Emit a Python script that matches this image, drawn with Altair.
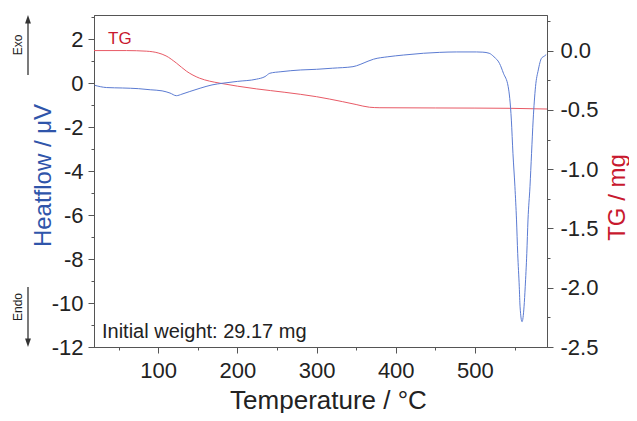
import altair as alt
import pandas as pd

# ---------------- data ----------------
temp_hf = [20, 35, 55, 75, 90, 105, 115, 123, 130, 140,
           153, 168, 182, 200, 224, 235, 241, 255, 280, 300,
           320, 346, 355, 365, 372, 390, 410, 435, 455, 477,
           502, 510, 518, 524, 531, 536, 542, 546, 548, 550.5,
           552.5, 554, 556, 557, 559.5, 562, 563.5, 565.5, 567, 569.5,
           571.5, 573.5, 576.5, 580, 584, 588, 590]
heatflow = [-0.10, -0.20, -0.22, -0.25, -0.30, -0.35, -0.45, -0.57, -0.50, -0.38,
            -0.23, -0.08, 0.00, 0.08, 0.18, 0.30, 0.45, 0.52, 0.60, 0.63,
            0.68, 0.75, 0.85, 1.00, 1.09, 1.20, 1.28, 1.36, 1.40, 1.42,
            1.42, 1.41, 1.36, 1.20, 0.90, 0.45, -0.16, -1.68, -3.19, -4.71,
            -6.22, -7.74, -9.26, -10.17, -10.85, -10.17, -9.26, -7.74, -6.22, -4.71,
            -3.19, -1.68, -0.16, 0.60, 1.13, 1.24, 1.30]

temp_tg = [19, 60, 85, 100, 110, 123, 136, 152, 165, 178,
           200, 224, 260, 300, 333, 350, 367, 380, 450, 500,
           545, 591]
tg = [0.0, 0.0, -0.005, -0.02, -0.045, -0.105, -0.175, -0.232, -0.258, -0.275,
      -0.30, -0.323, -0.352, -0.389, -0.431, -0.455, -0.478, -0.482, -0.484, -0.485,
      -0.487, -0.493]

x_ticks = list(range(50, 591, 50))
hf_ticks = list(range(-12, 4))
tg_ticks = [-2.5 + 0.25 * i for i in range(12)]

x_domain = [19, 591]
hf_domain = [-12, 3.1]
tg_domain = [-2.5, 0.3]

hf_df = pd.DataFrame({"T": temp_hf, "HF": heatflow})
tg_df = pd.DataFrame({"T": temp_tg, "TG": tg})
one = pd.DataFrame({"k": [0]})

# ---------------- styling ----------------
FONT = "Liberation Sans"
AX = "#555555"
TXT = "#222222"
BLUE_LINE = "#5b7bd2"
RED_LINE = "#e85a66"
BLUE_TITLE = "#2f55aa"
RED_TITLE = "#c8192f"
MINUS = "\u2212"


def cond_size(test):
    return {"condition": {"test": test, "value": 6}, "value": 3}


x_axis = alt.Axis(
    values=x_ticks,
    tickSize=cond_size("datum.value % 100 === 0"),
    labelExpr="datum.value % 100 === 0 ? datum.label : ''",
    labelFontSize=22, labelFont=FONT, labelColor=TXT, labelPadding=7,
    labelFlush=False, labelOverlap=False,
    tickColor=AX, domainColor=AX, tickWidth=1, domainWidth=1, grid=False,
    title="Temperature / °C", titleFont=FONT, titleFontSize=26,
    titleFontWeight="normal", titleColor=TXT,
    titleX=234, titleY=61, titleAlign="center", titleBaseline="alphabetic",
)

hf_axis = alt.Axis(
    orient="left",
    values=hf_ticks,
    tickSize=cond_size("datum.value % 2 === 0"),
    labelExpr="datum.value % 2 === 0 ? replace(datum.label, '" + MINUS + "', '-') : ''",
    labelFontSize=22, labelFont=FONT, labelColor=TXT, labelPadding=5,
    labelOverlap=False,
    tickColor=AX, domainColor=AX, tickWidth=1, domainWidth=1, grid=False,
    title="Heatflow / μV", titleFont=FONT, titleFontSize=24,
    titleFontWeight="normal", titleColor=BLUE_TITLE,
    titleAngle=270, titleX=-44, titleY=160, titleAlign="center",
    titleBaseline="alphabetic",
)

tg_axis = alt.Axis(
    orient="right",
    values=tg_ticks,
    format=".1f",
    tickSize=cond_size("datum.value * 2 === round(datum.value * 2)"),
    labelExpr="datum.value * 2 === round(datum.value * 2) ? replace(datum.label, '" + MINUS + "', '-') : ''",
    labelFontSize=22, labelFont=FONT, labelColor=TXT, labelPadding=7,
    labelOverlap=False,
    tickColor=AX, domainColor=AX, tickWidth=1, domainWidth=1, grid=False,
    title="TG / mg", titleFont=FONT, titleFontSize=24,
    titleFontWeight="normal", titleColor=RED_TITLE,
    titleAngle=270, titleX=77, titleY=182, titleAlign="center",
    titleBaseline="alphabetic",
)

x_enc = alt.X("T:Q", scale=alt.Scale(domain=x_domain, nice=False, zero=False), axis=x_axis)

hf_line = alt.Chart(hf_df).mark_line(
    color=BLUE_LINE, strokeWidth=1, interpolate="monotone"
).encode(
    x=x_enc,
    y=alt.Y("HF:Q", scale=alt.Scale(domain=hf_domain, nice=False, zero=False), axis=hf_axis),
)

tg_line = alt.Chart(tg_df).mark_line(
    color=RED_LINE, strokeWidth=1, interpolate="monotone"
).encode(
    x=x_enc,
    y=alt.Y("TG:Q", scale=alt.Scale(domain=tg_domain, nice=False, zero=False), axis=tg_axis),
)

tg_label = alt.Chart(one).mark_text(
    text="TG", font=FONT, fontSize=17, color=RED_TITLE, align="left", baseline="middle"
).encode(x=alt.value(14), y=alt.value(24))

iw_label = alt.Chart(one).mark_text(
    text="Initial weight: 29.17 mg", font=FONT, fontSize=20, color=TXT,
    align="left", baseline="middle"
).encode(x=alt.value(8), y=alt.value(317))

ARROW = "#333333"
exo_line = alt.Chart(one).mark_rule(color=ARROW, strokeWidth=1.3).encode(
    x=alt.value(-66), y=alt.value(6), y2=alt.value(60))
exo_head = alt.Chart(one).mark_point(
    shape="M0,-1L0.7,1L-0.7,1Z", filled=True, size=70, color=ARROW, opacity=1
).encode(x=alt.value(-66), y=alt.value(4.2))
exo_text = alt.Chart(one).mark_text(
    text="Exo", font=FONT, fontSize=12, color=TXT, angle=270,
    align="center", baseline="middle"
).encode(x=alt.value(-76.5), y=alt.value(30))

endo_line = alt.Chart(one).mark_rule(color=ARROW, strokeWidth=1.3).encode(
    x=alt.value(-66), y=alt.value(272), y2=alt.value(326))
endo_head = alt.Chart(one).mark_point(
    shape="M0,1L0.7,-1L-0.7,-1Z", filled=True, size=70, color=ARROW, opacity=1
).encode(x=alt.value(-66), y=alt.value(327.8))
endo_text = alt.Chart(one).mark_text(
    text="Endo", font=FONT, fontSize=12, color=TXT, angle=270,
    align="center", baseline="middle"
).encode(x=alt.value(-76.5), y=alt.value(292))

chart = alt.layer(
    tg_line, hf_line, tg_label, iw_label,
    exo_line, exo_head, exo_text, endo_line, endo_head, endo_text,
).resolve_scale(
    y="independent"
).properties(
    width=453, height=332,
    padding={"left": 86, "top": 7, "right": 82, "bottom": 66},
    autosize=alt.AutoSizeParams(type="none"),
    background="white",
).configure_view(
    stroke=AX, strokeWidth=1
)

chart.save("out.html", embed_options={"renderer": "svg", "actions": False})
